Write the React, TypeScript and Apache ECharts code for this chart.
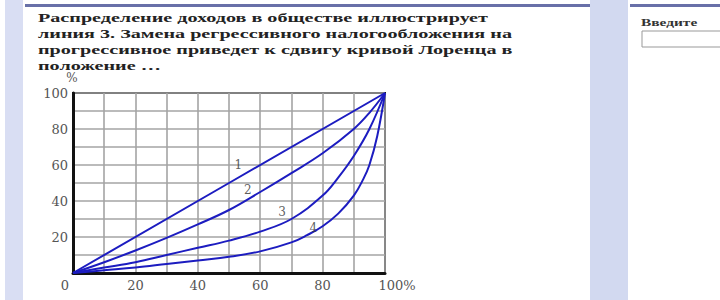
import React, { useEffect, useRef } from "react";
import * as echarts from "echarts";

const titleLines = [
  "Распределение доходов в обществе иллюстрирует",
  "линия 3. Замена регрессивного налогообложения на",
  "прогрессивное приведет к сдвигу кривой Лоренца в",
  "положение …",
];
const rightLabel = "Введите";

const xTicks = [0, 20, 40, 60, 80, 100];
const yTicks = [20, 40, 60, 80, 100];

const line1: [number, number][] = [[0, 0], [50, 50], [100, 100]];
const line2: [number, number][] = [[0, 0], [10, 6], [20, 12.5], [30, 19.5], [40, 27], [50, 35], [60, 45], [70, 55.5], [80, 66.5], [90, 80], [95, 89], [100, 100]];
const line3: [number, number][] = [[0, 0], [10, 3], [20, 6], [30, 10], [40, 14], [50, 18], [60, 23], [70, 30], [80, 43], [85, 53], [90, 65], [95, 80], [100, 100]];
const line4: [number, number][] = [[0, 0], [10, 1.5], [20, 3], [30, 5], [40, 7], [50, 9], [60, 12], [70, 17], [75, 21], [80, 26], [85, 33], [90, 43], [93, 52], [95, 60], [97.5, 76], [100, 100]];
const curveLabels: [number, number, string][] = [
  [53, 60, "1"],
  [56, 46, "2"],
  [67, 34, "3"],
  [77, 25, "4"],
];

const BLUE = "#1c1cc0";

export default function App() {
  const ref = useRef<HTMLDivElement>(null);
  useEffect(() => {
    if (!ref.current) return;
    const chart = echarts.init(ref.current, null, { renderer: "svg", width: 720, height: 300 });
    const mk = (d: [number, number][], smooth: boolean | number) => ({
      type: "line",
      data: d,
      smooth,
      showSymbol: false,
      lineStyle: { color: BLUE, width: 2 },
      z: 5,
    });
    const tStyle = (text: string) => ({
      text,
      fontFamily: "Liberation Serif",
      fontWeight: "bold",
      fontSize: 13,
      fill: "#222",
      verticalAlign: "top",
    });
    chart.setOption({
      animation: false,
      backgroundColor: "#ffffff",
      graphic: [
        { type: "rect", shape: { x: 5, y: 0, width: 18, height: 300 }, style: { fill: "#d9def3" }, z: -10 },
        { type: "rect", shape: { x: 590, y: 0, width: 38, height: 300 }, style: { fill: "#d2d9f0" }, z: -10 },
        { type: "rect", shape: { x: 25, y: 4, width: 565, height: 3 }, style: { fill: "#6870a8" }, z: -10 },
        { type: "rect", shape: { x: 630, y: 4, width: 90, height: 3 }, style: { fill: "#6870a8" }, z: -10 },
        ...titleLines.map((t, i) => ({
          type: "text",
          x: 38,
          y: 11 + i * 16,
          scaleX: 1.55,
          style: tStyle(t),
        })),
        {
          type: "text",
          x: 641,
          y: 17,
          scaleX: 1.4,
          style: { ...tStyle(rightLabel), fontSize: 11, fill: "#333" },
        },
        { type: "rect", shape: { x: 642, y: 31, width: 90, height: 16 }, style: { fill: "#fff", stroke: "#999", lineWidth: 1 } },
        {
          type: "text",
          x: 72,
          y: 78,
          style: { text: "%", fontFamily: "DejaVu Serif", fontSize: 12, fill: "#555", align: "center", verticalAlign: "middle" },
        },
      ],
      grid: { left: 73, top: 93, width: 312, height: 180, show: true, borderColor: "#1a1a1a", borderWidth: 2, backgroundColor: "transparent" },
      xAxis: {
        type: "value",
        min: 0,
        max: 100,
        interval: 10,
        axisLine: { show: true, lineStyle: { color: "#111", width: 3 } },
        axisTick: { show: false },
        splitLine: { show: true, lineStyle: { color: "#a4a4a4", width: 1.6 } },
        axisLabel: {
          margin: 6,
          color: "#555",
          fontFamily: "DejaVu Serif",
          fontSize: 13,
          formatter: (v: number) => {
            if (!xTicks.includes(v)) return "";
            if (v === 0) return "{z|0}";
            if (v === 100) return "{h|100%}";
            return String(v);
          },
          rich: {
            z: { padding: [0, 16, 0, 0], color: "#555", fontFamily: "DejaVu Serif", fontSize: 13 },
            h: { padding: [0, 0, 0, 24], color: "#555", fontFamily: "DejaVu Serif", fontSize: 13 },
          },
        },
      },
      yAxis: {
        type: "value",
        min: 0,
        max: 100,
        interval: 10,
        axisLine: { show: true, lineStyle: { color: "#111", width: 3 } },
        axisTick: { show: false },
        splitLine: { show: true, lineStyle: { color: "#a4a4a4", width: 1.6 } },
        axisLabel: {
          margin: 5,
          color: "#555",
          fontFamily: "DejaVu Serif",
          fontSize: 13,
          formatter: (v: number) => (yTicks.includes(v) ? String(v) : ""),
        },
      },
      series: [
        mk(line1, false),
        mk(line2, 0.4),
        mk(line3, 0.4),
        mk(line4, 0.4),
        {
          type: "scatter",
          data: curveLabels.map((c) => [c[0], c[1], c[2]]),
          symbolSize: 0,
          label: {
            show: true,
            position: "inside",
            formatter: (p: any) => p.value[2],
            color: "#333",
            fontFamily: "DejaVu Serif",
            fontSize: 12,
          },
          z: 6,
        },
      ],
    });
    return () => chart.dispose();
  }, []);
  return <div ref={ref} style={{ position: "absolute", left: 0, top: 0, width: 720, height: 300 }} />;
}
